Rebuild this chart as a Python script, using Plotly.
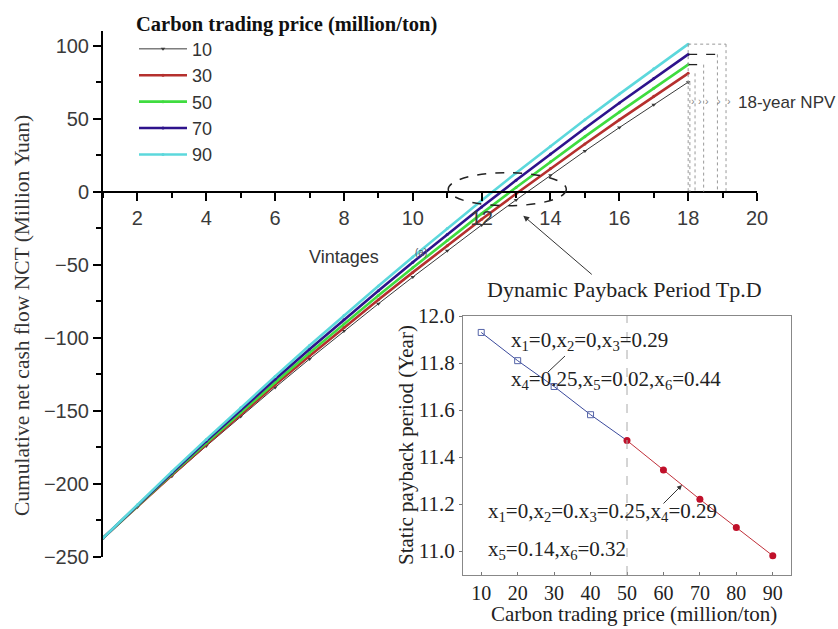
import plotly.graph_objects as go

# ---------------- data ----------------
years = list(range(1, 19))
price_labels = ["10", "30", "50", "70", "90"]
nct_10 = [-237, -215.7, -194.7, -174.1, -153.9, -134.0, -114.5, -95.4, -76.7, -58.4, -40.4, -22.8, -5.6, 11.3, 27.8, 43.9, 59.6, 75.0]
nct_30 = [-237, -215.3, -194.0, -173.0, -152.5, -132.2, -112.4, -92.9, -73.9, -55.2, -36.9, -18.9, -1.4, 15.9, 32.7, 49.2, 65.3, 81.0]
nct_50 = [-237, -215.0, -193.3, -172.0, -151.1, -130.5, -110.3, -90.5, -71.1, -52.0, -33.3, -15.0, 2.9, 20.5, 37.7, 54.5, 70.9, 87.0]
nct_70 = [-237, -214.6, -192.5, -170.7, -149.4, -128.4, -107.8, -87.6, -67.8, -48.3, -29.2, -10.5, 7.8, 25.8, 43.4, 60.7, 77.5, 94.0]
nct_90 = [-237, -214.2, -191.6, -169.5, -147.8, -126.4, -105.3, -84.7, -64.5, -44.6, -25.1, -6.0, 12.8, 31.2, 49.3, 66.8, 84.1, 101.0]

inset_price = [10, 20, 30, 40, 50, 60, 70, 80, 90]
inset_payback = [11.93, 11.81, 11.70, 11.58, 11.47, 11.345, 11.22, 11.10, 10.98]

inset_yticks = [11.0, 11.2, 11.4, 11.6, 11.8, 12.0]

# ---------------- styling ----------------
SANS = "Liberation Sans, Arial, sans-serif"
SERIF = "Liberation Serif, Times New Roman, serif"
colors = ["#3a3a3a", "#b5302e", "#3fdc3f", "#2e138c", "#5cd8dc"]
widths = [1, 2.6, 2.6, 2.6, 2.6]
symbols = ["triangle-down", "circle", "circle", "circle", "circle"]

W, H = 838, 629
ML, MR, MT, MB = 103, 40, 0, 54
PW = W - ML - MR
PH = H - MT - MB


def px(x):
    return (x - ML) / PW


def py(y):
    return (H - MB - y) / PH


fig = go.Figure()

series = [nct_10, nct_30, nct_50, nct_70, nct_90]
for lab, vals, c, w, s in zip(price_labels, series, colors, widths, symbols):
    fig.add_trace(go.Scatter(
        x=years, y=vals, name=lab, mode="lines+markers",
        line=dict(color=c, width=w),
        marker=dict(color=c, size=4 if s == "triangle-down" else 3, symbol=s),
        xaxis="x", yaxis="y", showlegend=True,
    ))

# inset traces
fig.add_trace(go.Scatter(
    x=inset_price[:5], y=inset_payback[:5], mode="lines",
    line=dict(color="#3b4a9c", width=1), xaxis="x2", yaxis="y2", showlegend=False))
fig.add_trace(go.Scatter(
    x=inset_price[:4], y=inset_payback[:4], mode="markers",
    marker=dict(symbol="square-open", size=6, color="#5564a8", line=dict(width=1)),
    xaxis="x2", yaxis="y2", showlegend=False))
fig.add_trace(go.Scatter(
    x=inset_price[4:], y=inset_payback[4:], mode="lines+markers",
    line=dict(color="#c0303a", width=1),
    marker=dict(symbol="circle", size=7, color="#c0102a"),
    xaxis="x2", yaxis="y2", showlegend=False))

y_lo, y_hi = -250, 110
main_ydom = [py(557), py(31)]
xpos = main_ydom[0] + (0 - y_lo) / (y_hi - y_lo) * (main_ydom[1] - main_ydom[0])

fig.update_layout(
    width=W, height=H,
    margin=dict(l=ML, r=MR, t=MT, b=MB, autoexpand=False),
    paper_bgcolor="white", plot_bgcolor="rgba(0,0,0,0)",
    xaxis=dict(
        domain=[0, px(757)], range=[1, 20], anchor="free", position=xpos,
        tickmode="linear", tick0=2, dtick=2,
        ticks="outside", ticklen=8, tickwidth=1.5, tickcolor="black",
        showline=True, linecolor="black", linewidth=2,
        showgrid=False, zeroline=False,
        tickfont=dict(family=SANS, size=20, color="#3a3a3a"),
        minor=dict(ticks="outside", ticklen=5, tickwidth=1.5, tickcolor="black", dtick=1, tick0=1, showgrid=False),
    ),
    yaxis=dict(
        domain=main_ydom, range=[y_lo, y_hi], anchor="x",
        tickmode="linear", tick0=-250, dtick=50,
        ticks="outside", ticklen=8, tickwidth=1.5, tickcolor="black",
        showline=True, linecolor="black", linewidth=2,
        showgrid=False, zeroline=False,
        tickfont=dict(family=SANS, size=20, color="#3a3a3a"),
        minor=dict(ticks="outside", ticklen=5, tickwidth=1.5, tickcolor="black", dtick=25, tick0=-250, showgrid=False),
    ),
    xaxis2=dict(
        domain=[px(463), px(791)], range=[5, 95], anchor="y2",
        tickmode="array", tickvals=inset_price,
        ticks="inside", ticklen=3, tickcolor="#777",
        showline=True, mirror=True, linecolor="#888", linewidth=1,
        showgrid=False, zeroline=False,
        tickfont=dict(family=SERIF, size=20, color="#222"),
    ),
    yaxis2=dict(
        domain=[py(575), py(316)], range=[10.898, 12.0], anchor="x2",
        tickmode="array", tickvals=inset_yticks, tickformat=".1f",
        ticks="outside", ticklen=3, tickcolor="#777",
        showline=True, mirror=True, linecolor="#888", linewidth=1,
        showgrid=False, zeroline=False,
        tickfont=dict(family=SERIF, size=21, color="#222"),
    ),
    legend=dict(
        x=px(134), y=py(4), xanchor="left", yanchor="top",
        bgcolor="rgba(0,0,0,0)",
        font=dict(family=SANS, size=18, color="#333"),
        title=dict(text="<b>Carbon trading price (million/ton)</b>",
                   font=dict(family=SERIF, size=20.5, color="#111")),
        tracegroupgap=0, itemwidth=48,
    ),
    showlegend=True,
)

shapes = []
# inset background
shapes.append(dict(type="rect", xref="paper", yref="paper", x0=px(463), x1=px(791), y0=py(575), y1=py(316),
                   fillcolor="white", line=dict(width=0), layer="below"))
# 18-year NPV guide lines
gray = dict(color="#999", width=1, dash="dot")
blk = dict(color="#222", width=1.3, dash="dash")
shapes += [
    dict(type="line", xref="x", yref="y", x0=18, x1=19.1, y0=101, y1=101, line=gray),
    dict(type="line", xref="x", yref="y", x0=19.1, x1=19.1, y0=101, y1=0, line=gray),
    dict(type="line", xref="x", yref="y", x0=18, x1=18.85, y0=94, y1=94, line=blk),
    dict(type="line", xref="x", yref="y", x0=18.85, x1=18.85, y0=94, y1=0, line=gray),
    dict(type="line", xref="x", yref="y", x0=18, x1=18.45, y0=87, y1=87, line=blk),
    dict(type="line", xref="x", yref="y", x0=18.45, x1=18.45, y0=87, y1=0, line=gray),
    dict(type="line", xref="x", yref="y", x0=18.2, x1=18.2, y0=81, y1=0, line=gray),
    dict(type="line", xref="x", yref="y", x0=18.05, x1=18.05, y0=75, y1=0, line=gray),
    dict(type="line", xref="x", yref="y", x0=18.0, x1=18.0, y0=101, y1=0, line=gray),
]
# dashed ellipse around payback crossing
shapes.append(dict(type="circle", xref="x", yref="y", x0=11.03, x1=14.46, y0=-9.6, y1=13,
                   line=dict(color="#222", width=1.5, dash="dash")))
# inset vertical dashed line at 50
shapes.append(dict(type="line", xref="x2", yref="y2 domain", x0=50, x1=50, y0=0, y1=1,
                   line=dict(color="#aaa", width=1, dash="dash")))
# inset leader line
shapes.append(dict(type="line", xref="paper", yref="paper", x0=px(548), x1=px(565), y0=py(372), y1=py(356),
                   line=dict(color="#333", width=1)))
fig.update_layout(shapes=shapes)


def txt(text, x, y, size, family, color="#222", xanchor="center", angle=0):
    return dict(text=text, xref="paper", yref="paper", x=px(x), y=py(y), xanchor=xanchor, yanchor="middle",
                textangle=angle, showarrow=False, font=dict(family=family, size=size, color=color))


ann = []
ann.append(txt("Cumulative net cash flow NCT (Million Yuan)", 22, 316, 21.5, SERIF, "#333", angle=-90))
ann.append(txt("Vintages", 344, 257, 18, SANS, "#333"))
ann.append(txt("(a)", 421, 253, 10, SANS, "#556"))
ann.append(txt("18-year NPV", 736, 102, 17, SANS, "#333", xanchor="left"))
for xp in [693, 700, 707, 719, 729]:
    ann.append(txt("›", xp, 101, 11, SANS, "#888"))
# Dynamic payback arrow + text
ann.append(dict(text="", xref="x", yref="y", x=1 + (523 - 103) / 34.4, y=(191 - 215) / 1.463,
                ax=70, ay=60, showarrow=True, arrowhead=2, arrowsize=1.2, arrowwidth=1, arrowcolor="#333"))
ann.append(txt("Dynamic Payback Period Tp.D", 624, 289, 22, SERIF, "#222"))
# inset annotations
ann.append(txt("x<sub>1</sub>=0,x<sub>2</sub>=0,x<sub>3</sub>=0.29", 509, 341, 21, SERIF, xanchor="left"))
ann.append(txt("x<sub>4</sub>=0.25,x<sub>5</sub>=0.02,x<sub>6</sub>=0.44", 509, 380, 21, SERIF, xanchor="left"))
ann.append(txt("x<sub>1</sub>=0,x<sub>2</sub>=0.x<sub>3</sub>=0.25,x<sub>4</sub>=0.29", 486, 512, 21, SERIF, xanchor="left"))
ann.append(txt("x<sub>5</sub>=0.14,x<sub>6</sub>=0.32", 486, 550, 21, SERIF, xanchor="left"))
ann.append(dict(text="", xref="paper", yref="paper", x=px(682), y=py(485), ax=-20, ay=20,
                showarrow=True, arrowhead=2, arrowsize=1, arrowwidth=1, arrowcolor="#333"))
ann.append(txt("Static payback period (Year)", 406, 445, 21, SERIF, angle=-90))
ann.append(txt("Carbon trading price (million/ton)", 634, 614, 21, SERIF))
fig.update_layout(annotations=ann)

fig.write_html("out.html")
